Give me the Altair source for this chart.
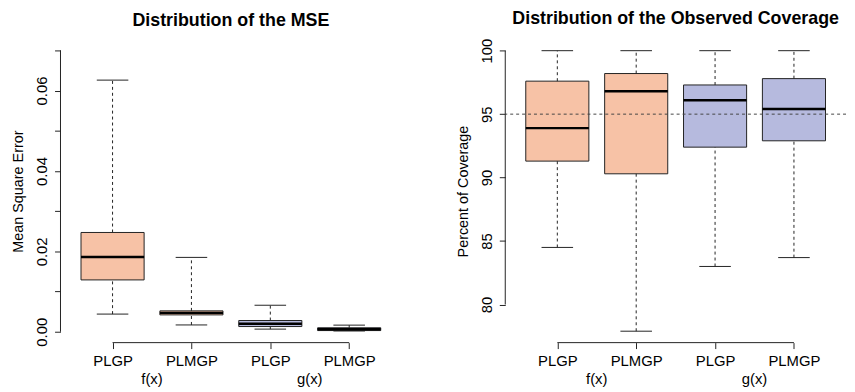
import json
import altair as alt
import pandas as pd

# ---------------- data ----------------
groups = ["f(x)", "f(x)", "g(x)", "g(x)"]
methods = ["PLGP", "PLMGP", "PLGP", "PLMGP"]
positions = [1, 2, 3, 4]
group_names = ["f(x)", "g(x)"]
group_centers = [1.5, 3.5]
box_colors = ["#F7C2A6", "#B6BADE"]

mse_min = [0.0044, 0.0017, 0.00066, 0.0002]
mse_q1 = [0.0129, 0.0042, 0.0013, 0.0003]
mse_med = [0.0186, 0.0047, 0.0020, 0.0006]
mse_q3 = [0.0247, 0.0052, 0.0028, 0.0010]
mse_max = [0.0626, 0.0185, 0.0066, 0.00165]

cov_min = [84.5, 77.9, 83.0, 83.7]
cov_q1 = [91.3, 90.3, 92.4, 92.9]
cov_med = [93.9, 96.8, 96.1, 95.4]
cov_q3 = [97.6, 98.2, 97.3, 97.8]
cov_max = [100, 100, 100, 100]

mse_ticks = [0.0, 0.01, 0.02, 0.03, 0.04, 0.05, 0.06, 0.07]
cov_ticks = [80, 85, 90, 95, 100]
target_coverage = 95

FONT = "Liberation Sans"
W, H = 344, 306
DARK = "#222222"
NOFRAME = alt.ViewBackground(stroke="transparent", strokeWidth=0)


def panel(lo, q1, med, q3, hi, ydomain, ticks, label_expr, ytitle, title, title_dx, ref=None):
    df = pd.DataFrame({"pos": positions, "group": groups, "method": methods,
                       "lo": lo, "q1": q1, "med": med, "q3": q3, "hi": hi})
    df["left"] = df["pos"] - 0.4
    df["right"] = df["pos"] + 0.4
    df["capl"] = df["pos"] - 0.2
    df["capr"] = df["pos"] + 0.2

    xsc = alt.Scale(domain=[0.34, 4.66], nice=False, zero=False)
    ysc = alt.Scale(domain=ydomain, nice=False, zero=False)
    xaxis = alt.Axis(values=positions, labelExpr=f"{json.dumps(methods)}[datum.value - 1]",
                     domain=False, grid=False, tickSize=6, tickColor=DARK, labelPadding=5,
                     labelFontSize=15, labelColor="black", labelFont=FONT, title=None)
    yaxis = alt.Axis(values=ticks, labelExpr=label_expr, domain=False, grid=False,
                     tickSize=6, tickColor=DARK, labelAngle=270, labelPadding=5,
                     labelFontSize=15, labelColor="black", labelFont=FONT,
                     title=ytitle, titleFontSize=14.5, titleFontWeight="normal",
                     titleColor="black", titleFont=FONT, titlePadding=9)

    base = alt.Chart(df)
    box = base.mark_rect(stroke=DARK, strokeWidth=1).encode(
        x=alt.X("left:Q", scale=xsc, axis=xaxis), x2="right:Q",
        y=alt.Y("q1:Q", scale=ysc, axis=yaxis), y2="q3:Q",
        fill=alt.Fill("group:N", scale=alt.Scale(domain=group_names, range=box_colors), legend=None),
    )
    wl = base.mark_rule(color=DARK, strokeDash=[3, 3], strokeWidth=1).encode(
        x=alt.X("pos:Q", scale=xsc), y=alt.Y("lo:Q", scale=ysc), y2="q1:Q")
    wh = base.mark_rule(color=DARK, strokeDash=[3, 3], strokeWidth=1).encode(
        x=alt.X("pos:Q", scale=xsc), y=alt.Y("q3:Q", scale=ysc), y2="hi:Q")
    capl = base.mark_rule(color=DARK, strokeWidth=1).encode(
        x=alt.X("capl:Q", scale=xsc), x2="capr:Q", y=alt.Y("lo:Q", scale=ysc))
    caph = base.mark_rule(color=DARK, strokeWidth=1).encode(
        x=alt.X("capl:Q", scale=xsc), x2="capr:Q", y=alt.Y("hi:Q", scale=ysc))
    medr = base.mark_rule(color="black", strokeWidth=2.5).encode(
        x=alt.X("left:Q", scale=xsc), x2="right:Q", y=alt.Y("med:Q", scale=ysc))

    yline = alt.Chart(pd.DataFrame({"a": [ticks[0]], "b": [ticks[-1]]})).mark_rule(
        color=DARK, strokeWidth=1).encode(
        x=alt.value(0), y=alt.Y("a:Q", scale=ysc), y2="b:Q")
    xline = alt.Chart(pd.DataFrame({"a": [positions[0]], "b": [positions[-1]]})).mark_rule(
        color=DARK, strokeWidth=1).encode(
        y=alt.value(H), x=alt.X("a:Q", scale=xsc), x2="b:Q")

    glab = alt.Chart(pd.DataFrame({"g": group_names, "c": group_centers})).mark_text(
        fontSize=15, font=FONT, color="black", baseline="alphabetic").encode(
        x=alt.X("c:Q", scale=xsc), y=alt.value(H + 42), text="g:N")

    layers = [box, wl, wh, capl, caph, medr, yline, xline, glab]
    if ref is not None:
        refr = alt.Chart(pd.DataFrame({"r": [ref]})).mark_rule(
            color="#444444", strokeDash=[3, 3], strokeWidth=1).encode(
            y=alt.Y("r:Q", scale=ysc))
        layers.append(refr)

    return alt.layer(*layers).properties(
        width=W, height=H, view=NOFRAME,
        title=alt.TitleParams(title, fontSize=18, fontWeight="bold", font=FONT,
                              color="black", anchor="middle", offset=10, dx=title_dx),
    )


left = panel(mse_min, mse_q1, mse_med, mse_q3, mse_max, [-0.0027, 0.0727], mse_ticks,
             "round(datum.value * 100) % 2 == 0 ? format(datum.value, '.2f') : ''",
             "Mean Square Error", "Distribution of the MSE", 0)
right = panel(cov_min, cov_q1, cov_med, cov_q3, cov_max, [77.0, 100.88], cov_ticks,
              "format(datum.value, 'd')",
              "Percent of Coverage", "Distribution of the Observed Coverage", 0,
              ref=target_coverage)

chart = alt.hconcat(left, right, spacing=55).properties(
    padding={"left": 3, "top": 0, "right": 0, "bottom": 0}
).configure(font=FONT).configure_view(strokeWidth=0, stroke="transparent")

chart.save("out.html", embed_options={"renderer": "svg", "actions": False})
